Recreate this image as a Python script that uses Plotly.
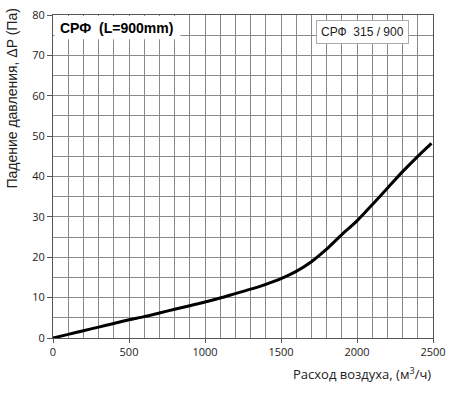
import plotly.graph_objects as go

flow = [0, 100, 200, 300, 400, 500, 600, 700, 800, 900, 1000, 1100, 1200, 1300,
        1400, 1500, 1600, 1700, 1800, 1900, 2000, 2100, 2200, 2300, 2400, 2490]
dp = [0, 0.9, 1.8, 2.7, 3.6, 4.5, 5.3, 6.2, 7.1, 8.0, 8.9, 9.9, 11.0, 12.1,
      13.3, 14.7, 16.5, 18.9, 22.0, 25.6, 29.0, 33.0, 37.1, 41.2, 45.0, 48.2]

x_ticks = [0, 500, 1000, 1500, 2000, 2500]
y_ticks = [0, 10, 20, 30, 40, 50, 60, 70, 80]

fig = go.Figure()
fig.add_trace(go.Scatter(x=flow, y=dp, mode="lines",
                         line=dict(color="black", width=3, shape="spline", smoothing=0.8),
                         hoverinfo="skip", showlegend=False))

grid_color = "#8a8a8a"
fig.update_xaxes(range=[0, 2500], tickvals=x_ticks, ticktext=[str(v) for v in x_ticks],
                 automargin=False,
                 showgrid=True, gridcolor=grid_color, gridwidth=1,
                 minor=dict(dtick=100, showgrid=True, gridcolor=grid_color, gridwidth=1),
                 showline=True, linecolor="#555", linewidth=1, mirror=True,
                 ticks="outside", ticklen=4, tickcolor="#555",
                 tickfont=dict(family="Open Sans", size=11, color="#222"), zeroline=False)
fig.update_yaxes(range=[0, 80], tickvals=y_ticks, ticktext=[str(v) for v in y_ticks],
                 automargin=False,
                 showgrid=True, gridcolor=grid_color, gridwidth=1,
                 minor=dict(dtick=5, showgrid=True, gridcolor=grid_color, gridwidth=1),
                 showline=True, linecolor="#555", linewidth=1, mirror=True,
                 ticks="outside", ticklen=5, tickcolor="#555",
                 tickfont=dict(family="Open Sans", size=11, color="#222"), zeroline=False)

fig.update_layout(
    width=450, height=394,
    margin=dict(l=53, r=17, t=15, b=56),
    paper_bgcolor="white", plot_bgcolor="white",
    shapes=[dict(type="rect", xref="x domain", yref="y domain", x0=0.004, x1=0.335, y0=0.925, y1=0.997,
                 fillcolor="white", line=dict(width=0), layer="above")],
    annotations=[
        dict(text="<b>СРФ  (L=900mm)</b>", xref="x domain", yref="y domain", x=0.166, y=0.961,
             xanchor="center", yanchor="middle",
             showarrow=False, font=dict(family="Liberation Sans", size=14, color="black")),
        dict(text="СРФ  315 / 900", xref="x domain", yref="y domain", x=0.814, y=0.947,
             xanchor="center", yanchor="middle",
             showarrow=False, font=dict(family="Liberation Sans", size=12, color="#222"),
             bgcolor="white", bordercolor="#aaa", borderwidth=1, borderpad=4),
        dict(text="Падение давления, ΔP (Па)", xref="paper", yref="paper", x=-0.108, y=0.741,
             xanchor="center", yanchor="middle", textangle=-90, showarrow=False,
             font=dict(family="Liberation Sans", size=14, color="#222")),
        dict(text="Расход воздуха, (м<sup>3</sup>/ч)", xref="paper", yref="paper", x=1.0, y=-0.075,
             xanchor="right", yanchor="top", showarrow=False,
             font=dict(family="Open Sans", size=13, color="#222")),
    ],
)

fig.write_html("out.html", config={"displayModeBar": False},
               post_script="document.body.style.margin='0';document.body.style.overflow='hidden';")
